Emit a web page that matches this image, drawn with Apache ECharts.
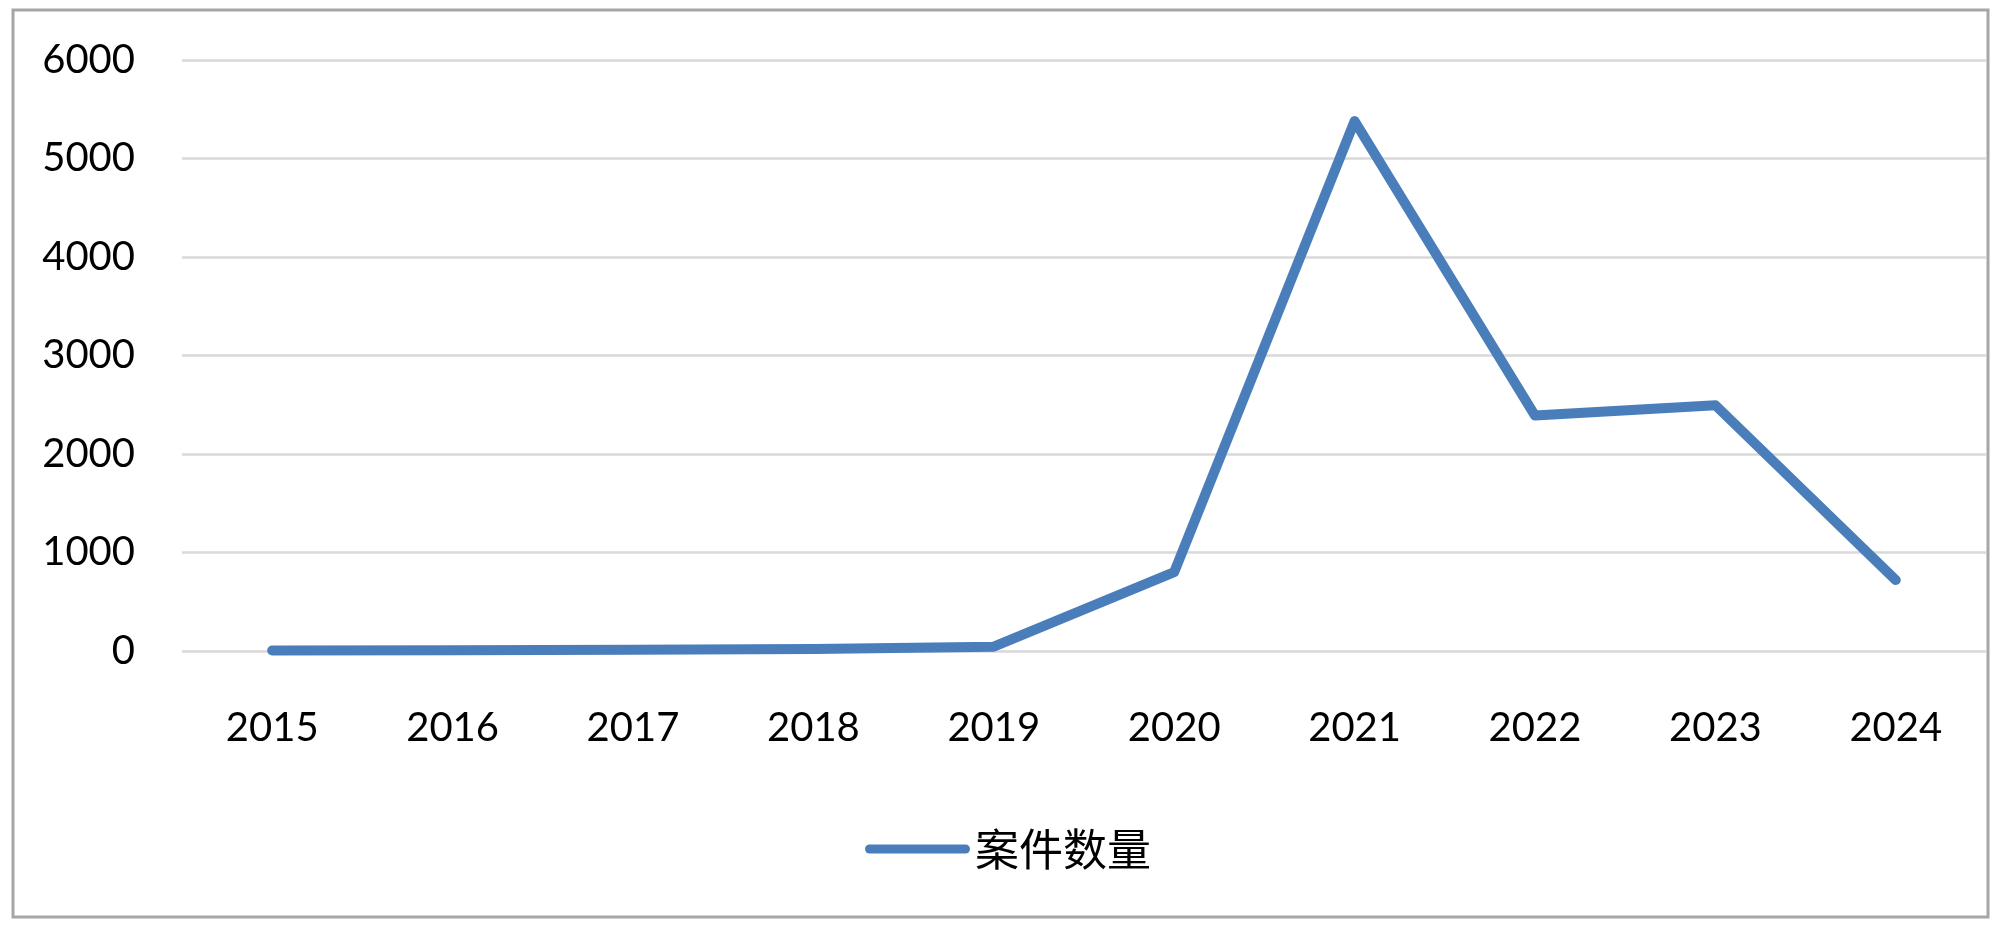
<!DOCTYPE html>
<html>
<head>
<meta charset="utf-8">
<script src="https://cdn.jsdelivr.net/npm/echarts@6/dist/echarts.min.js"></script>
<style>
  html, body { margin: 0; padding: 0; background: #ffffff; }
  #chart { width: 2000px; height: 932px; }
</style>
</head>
<body>
<div id="chart"></div>
<script>
// Yearly case counts
const years = ['2015', '2016', '2017', '2018', '2019', '2020', '2021', '2022', '2023', '2024'];
const caseCounts = [5, 8, 12, 20, 44, 800, 5380, 2390, 2495, 720];
const seriesName = '案件数量';
const yTicks = { min: 0, max: 6000, interval: 1000 };

const lineColor = '#4A7EBB';
const latinFont = 'Lato, "Open Sans", sans-serif';

const chart = echarts.init(document.getElementById('chart'), null, { renderer: 'canvas' });

chart.setOption({
  backgroundColor: '#ffffff',
  animation: false,
  graphic: [{
    type: 'rect',
    shape: { x: 13, y: 10, width: 1975, height: 907 },
    style: { fill: 'none', stroke: '#a6a6a6', lineWidth: 3 },
    silent: true,
    z: 0
  }],
  grid: { left: 182, right: 14, top: 60, bottom: 281, containLabel: false },
  legend: {
    data: [seriesName],
    left: 860,
    top: 822,
    itemWidth: 105,
    itemHeight: 9,
    itemGap: 10,
    icon: 'path://M4.5,0 L100.5,0 A4.5,4.5 0 0 1 100.5,9 L4.5,9 A4.5,4.5 0 0 1 4.5,0 Z',
    textStyle: { fontFamily: '"Noto Sans CJK SC", sans-serif', fontSize: 44, color: '#000000', padding: [0, 0, 0, 0] }
  },
  xAxis: {
    type: 'category',
    data: years,
    boundaryGap: true,
    axisLine: { show: false },
    axisTick: { show: false },
    axisLabel: { color: '#000000', fontFamily: latinFont, fontSize: 40, margin: 57 }
  },
  yAxis: {
    type: 'value',
    min: yTicks.min,
    max: yTicks.max,
    interval: yTicks.interval,
    axisLine: { show: false },
    axisTick: { show: false },
    axisLabel: {
      color: '#000000', fontFamily: latinFont, fontSize: 40, margin: 47,
      formatter: (v) => String(v)
    },
    splitLine: { lineStyle: { color: '#d9d9d9', width: 2.5 } }
  },
  series: [{
    name: seriesName,
    type: 'line',
    data: caseCounts,
    showSymbol: false,
    symbol: 'none',
    color: lineColor,
    lineStyle: { color: lineColor, width: 10, cap: 'round', join: 'round' },
    itemStyle: { color: lineColor }
  }]
});
</script>
</body>
</html>
